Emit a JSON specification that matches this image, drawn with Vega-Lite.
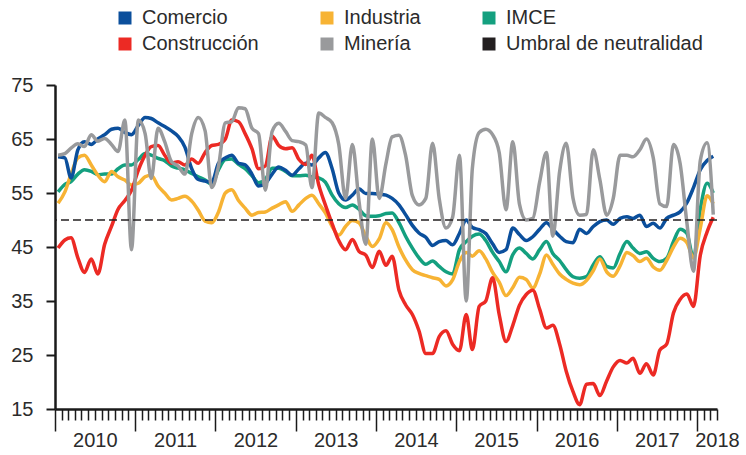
{
  "$schema": "https://vega.github.io/schema/vega-lite/v6.json",
  "width": 662,
  "height": 324,
  "autosize": {"type": "none"},
  "padding": {"left": 55, "top": 85, "right": 29, "bottom": 46},
  "background": "white",
  "config": {"view": {"stroke": null}, "font": "Liberation Sans"},
  "data": {"values": [
    {"d":"2010-01-15","Comercio":61.7,"Industria":53.1,"IMCE":55.2,"Construcción":44.8,"Minería":62},
    {"d":"2010-02-15","Comercio":61.5,"Industria":55.2,"IMCE":56.6,"Construcción":46.3,"Minería":62.3},
    {"d":"2010-03-15","Comercio":57.8,"Industria":58.5,"IMCE":57.1,"Construcción":46.7,"Minería":63.3},
    {"d":"2010-04-15","Comercio":63,"Industria":61.5,"IMCE":58.5,"Construcción":43,"Minería":64.1},
    {"d":"2010-05-15","Comercio":64.5,"Industria":62,"IMCE":59.3,"Construcción":40.3,"Minería":63.6},
    {"d":"2010-06-15","Comercio":64,"Industria":60.2,"IMCE":59,"Construcción":42.8,"Minería":65.8},
    {"d":"2010-07-15","Comercio":65,"Industria":58.3,"IMCE":58.4,"Construcción":40,"Minería":64.6},
    {"d":"2010-08-15","Comercio":65.8,"Industria":57.1,"IMCE":58.5,"Construcción":45.5,"Minería":65.1},
    {"d":"2010-09-15","Comercio":66.8,"Industria":59,"IMCE":58.5,"Construcción":48.8,"Minería":64},
    {"d":"2010-10-15","Comercio":67,"Industria":58,"IMCE":59.5,"Construcción":52,"Minería":62.7},
    {"d":"2010-11-15","Comercio":66.2,"Industria":57.4,"IMCE":60.2,"Construcción":53.6,"Minería":68.5},
    {"d":"2010-12-15","Comercio":65.8,"Industria":56.5,"IMCE":60.2,"Construcción":55.5,"Minería":44.5},
    {"d":"2011-01-15","Comercio":67.5,"Industria":56.8,"IMCE":61.2,"Construcción":59.2,"Minería":68.5},
    {"d":"2011-02-15","Comercio":69,"Industria":58,"IMCE":62.3,"Construcción":62,"Minería":66},
    {"d":"2011-03-15","Comercio":68.8,"Industria":58.3,"IMCE":62,"Construcción":63.6,"Minería":57.7},
    {"d":"2011-04-15","Comercio":68,"Industria":56.3,"IMCE":61.4,"Construcción":63.8,"Minería":67},
    {"d":"2011-05-15","Comercio":67.3,"Industria":55,"IMCE":61,"Construcción":62,"Minería":64.5},
    {"d":"2011-06-15","Comercio":66.5,"Industria":53.7,"IMCE":60,"Construcción":60.5,"Minería":60.8},
    {"d":"2011-07-15","Comercio":65.5,"Industria":54,"IMCE":59.6,"Construcción":60.8,"Minería":60},
    {"d":"2011-08-15","Comercio":63.5,"Industria":54.4,"IMCE":59.3,"Construcción":60.2,"Minería":58.5},
    {"d":"2011-09-15","Comercio":59.5,"Industria":53.5,"IMCE":58.6,"Construcción":61.3,"Minería":66},
    {"d":"2011-10-15","Comercio":57.5,"Industria":51.8,"IMCE":58,"Construcción":60.5,"Minería":69},
    {"d":"2011-11-15","Comercio":57.2,"Industria":49.8,"IMCE":57.4,"Construcción":62.5,"Minería":66.5},
    {"d":"2011-12-15","Comercio":57,"Industria":49.5,"IMCE":56.6,"Construcción":63.8,"Minería":56},
    {"d":"2012-01-15","Comercio":60.5,"Industria":51.5,"IMCE":59.3,"Construcción":64,"Minería":60},
    {"d":"2012-02-15","Comercio":61.5,"Industria":55,"IMCE":61.2,"Construcción":65,"Minería":68},
    {"d":"2012-03-15","Comercio":62,"Industria":55.6,"IMCE":61.3,"Construcción":68.5,"Minería":68.2},
    {"d":"2012-04-15","Comercio":60.5,"Industria":53.6,"IMCE":60.3,"Construcción":68.2,"Minería":70.8},
    {"d":"2012-05-15","Comercio":60.2,"Industria":52.2,"IMCE":59.5,"Construcción":66,"Minería":70.6},
    {"d":"2012-06-15","Comercio":58.5,"Industria":50.9,"IMCE":58.2,"Construcción":63.2,"Minería":67},
    {"d":"2012-07-15","Comercio":56.3,"Industria":51.4,"IMCE":56.9,"Construcción":59.5,"Minería":66},
    {"d":"2012-08-15","Comercio":56.8,"Industria":51.5,"IMCE":57.5,"Construcción":60,"Minería":55.5},
    {"d":"2012-09-15","Comercio":58.5,"Industria":52.2,"IMCE":59.6,"Construcción":65.5,"Minería":66.4},
    {"d":"2012-10-15","Comercio":59.8,"Industria":52.8,"IMCE":59.6,"Construcción":63.8,"Minería":67.9},
    {"d":"2012-11-15","Comercio":59.2,"Industria":53.4,"IMCE":59,"Construcción":63.2,"Minería":66.4},
    {"d":"2012-12-15","Comercio":58.3,"Industria":51.6,"IMCE":58.2,"Construcción":63.4,"Minería":64.7},
    {"d":"2013-01-15","Comercio":59.5,"Industria":52.8,"IMCE":58.2,"Construcción":61.2,"Minería":64.5},
    {"d":"2013-02-15","Comercio":60.5,"Industria":54,"IMCE":58.3,"Construcción":60.3,"Minería":63.9},
    {"d":"2013-03-15","Comercio":60.2,"Industria":54.6,"IMCE":58,"Construcción":62,"Minería":56},
    {"d":"2013-04-15","Comercio":61.5,"Industria":53,"IMCE":57.8,"Construcción":56.5,"Minería":69.8},
    {"d":"2013-05-15","Comercio":62.5,"Industria":51.3,"IMCE":57,"Construcción":52.8,"Minería":69},
    {"d":"2013-06-15","Comercio":59.5,"Industria":48.8,"IMCE":54.6,"Construcción":49.3,"Minería":68},
    {"d":"2013-07-15","Comercio":55,"Industria":47.2,"IMCE":53,"Construcción":46.2,"Minería":64},
    {"d":"2013-08-15","Comercio":53.7,"Industria":48.8,"IMCE":52.3,"Construcción":44.5,"Minería":54},
    {"d":"2013-09-15","Comercio":54.6,"Industria":49.9,"IMCE":52.8,"Construcción":46.4,"Minería":64},
    {"d":"2013-10-15","Comercio":55.8,"Industria":49.5,"IMCE":52,"Construcción":44.2,"Minería":53.5},
    {"d":"2013-11-15","Comercio":54.9,"Industria":47,"IMCE":50.8,"Construcción":43.5,"Minería":45.5},
    {"d":"2013-12-15","Comercio":54.9,"Industria":45.1,"IMCE":50.7,"Construcción":41.2,"Minería":65},
    {"d":"2014-01-15","Comercio":54.8,"Industria":46.5,"IMCE":50.8,"Construcción":44.2,"Minería":54},
    {"d":"2014-02-15","Comercio":54.6,"Industria":49.5,"IMCE":51.2,"Construcción":41.6,"Minería":60.5},
    {"d":"2014-03-15","Comercio":54,"Industria":48.2,"IMCE":51.3,"Construcción":43.3,"Minería":65.4},
    {"d":"2014-04-15","Comercio":52.8,"Industria":45,"IMCE":49.5,"Construcción":37,"Minería":65.7},
    {"d":"2014-05-15","Comercio":51,"Industria":42.6,"IMCE":47,"Construcción":34.3,"Minería":62},
    {"d":"2014-06-15","Comercio":49,"Industria":40.8,"IMCE":44.8,"Construcción":32.5,"Minería":54.5},
    {"d":"2014-07-15","Comercio":47.6,"Industria":40.1,"IMCE":43,"Construcción":29.5,"Minería":52.8},
    {"d":"2014-08-15","Comercio":46.8,"Industria":39.7,"IMCE":41.8,"Construcción":25.3,"Minería":54},
    {"d":"2014-09-15","Comercio":45.3,"Industria":39.3,"IMCE":42.4,"Construcción":25.3,"Minería":64.2},
    {"d":"2014-10-15","Comercio":46,"Industria":39,"IMCE":41.4,"Construcción":28.4,"Minería":54},
    {"d":"2014-11-15","Comercio":46.2,"Industria":37.8,"IMCE":40.4,"Construcción":29.5,"Minería":48.5},
    {"d":"2014-12-15","Comercio":45.4,"Industria":38.9,"IMCE":40,"Construcción":27,"Minería":50.5},
    {"d":"2015-01-15","Comercio":47.5,"Industria":42.3,"IMCE":44.5,"Construcción":25.8,"Minería":62},
    {"d":"2015-02-15","Comercio":50,"Industria":44,"IMCE":46,"Construcción":32.5,"Minería":35},
    {"d":"2015-03-15","Comercio":48.6,"Industria":43.3,"IMCE":47,"Construcción":26,"Minería":59.6},
    {"d":"2015-04-15","Comercio":48.2,"Industria":44.3,"IMCE":47.4,"Construcción":34,"Minería":66.2},
    {"d":"2015-05-15","Comercio":47.5,"Industria":42.8,"IMCE":46.2,"Construcción":35,"Minería":66.8},
    {"d":"2015-06-15","Comercio":45.6,"Industria":40.3,"IMCE":44,"Construcción":39.3,"Minería":65.8},
    {"d":"2015-07-15","Comercio":44,"Industria":38.5,"IMCE":42.3,"Construcción":32.5,"Minería":62.5},
    {"d":"2015-08-15","Comercio":44.5,"Industria":36,"IMCE":40.4,"Construcción":27.5,"Minería":51.9},
    {"d":"2015-09-15","Comercio":48.5,"Industria":37.5,"IMCE":43.6,"Construcción":30.5,"Minería":64.5},
    {"d":"2015-10-15","Comercio":47.3,"Industria":39.4,"IMCE":44.8,"Construcción":34.2,"Minería":53},
    {"d":"2015-11-15","Comercio":46.2,"Industria":39,"IMCE":43.8,"Construcción":36.2,"Minería":50},
    {"d":"2015-12-15","Comercio":46.9,"Industria":37.4,"IMCE":42.8,"Construcción":37,"Minería":50.3},
    {"d":"2016-01-15","Comercio":48.3,"Industria":40,"IMCE":44.5,"Construcción":33.5,"Minería":57},
    {"d":"2016-02-15","Comercio":49.5,"Industria":43.5,"IMCE":46,"Construcción":30,"Minería":62.5},
    {"d":"2016-03-15","Comercio":48.3,"Industria":41.8,"IMCE":43.8,"Construcción":30.5,"Minería":47},
    {"d":"2016-04-15","Comercio":47,"Industria":40,"IMCE":42.5,"Construcción":27,"Minería":59},
    {"d":"2016-05-15","Comercio":46,"Industria":39,"IMCE":40.8,"Construcción":22,"Minería":64.2},
    {"d":"2016-06-15","Comercio":45.8,"Industria":38.3,"IMCE":39.5,"Construcción":18.2,"Minería":54},
    {"d":"2016-07-15","Comercio":48.3,"Industria":38,"IMCE":39.2,"Construcción":15.8,"Minería":50.9},
    {"d":"2016-08-15","Comercio":47.5,"Industria":38.8,"IMCE":39.5,"Construcción":19.6,"Minería":51},
    {"d":"2016-09-15","Comercio":48.8,"Industria":40.6,"IMCE":41.7,"Construcción":19.7,"Minería":63},
    {"d":"2016-10-15","Comercio":49.7,"Industria":42.8,"IMCE":43.2,"Construcción":17.5,"Minería":57.5},
    {"d":"2016-11-15","Comercio":50,"Industria":40.4,"IMCE":41.4,"Construcción":20.2,"Minería":50.9},
    {"d":"2016-12-15","Comercio":49.2,"Industria":39.6,"IMCE":41.1,"Construcción":22.8,"Minería":54},
    {"d":"2017-01-15","Comercio":50.3,"Industria":41.5,"IMCE":43.8,"Construcción":24,"Minería":62},
    {"d":"2017-02-15","Comercio":50.6,"Industria":44,"IMCE":46,"Construcción":23.5,"Minería":62},
    {"d":"2017-03-15","Comercio":50.3,"Industria":43.4,"IMCE":44.8,"Construcción":24.4,"Minería":61.7},
    {"d":"2017-04-15","Comercio":50.9,"Industria":42.3,"IMCE":43.8,"Construcción":21.6,"Minería":63},
    {"d":"2017-05-15","Comercio":48.8,"Industria":42.9,"IMCE":44.1,"Construcción":23.4,"Minería":65},
    {"d":"2017-06-15","Comercio":49.4,"Industria":41.3,"IMCE":42.9,"Construcción":21.3,"Minería":61.5},
    {"d":"2017-07-15","Comercio":48.5,"Industria":40.7,"IMCE":42.3,"Construcción":25.9,"Minería":53},
    {"d":"2017-08-15","Comercio":50.3,"Industria":42.5,"IMCE":42.9,"Construcción":27,"Minería":52.5},
    {"d":"2017-09-15","Comercio":50.9,"Industria":45,"IMCE":46,"Construcción":32.8,"Minería":64},
    {"d":"2017-10-15","Comercio":51.5,"Industria":46.6,"IMCE":48.3,"Construcción":35.3,"Minería":60.5},
    {"d":"2017-11-15","Comercio":53.2,"Industria":45.8,"IMCE":47.5,"Construcción":36.3,"Minería":49.5},
    {"d":"2017-12-15","Comercio":56,"Industria":43,"IMCE":43,"Construcción":34,"Minería":40.5},
    {"d":"2018-01-15","Comercio":59.3,"Industria":48.5,"IMCE":52,"Construcción":43.5,"Minería":61},
    {"d":"2018-02-15","Comercio":61,"Industria":54.5,"IMCE":56.8,"Construcción":47.8,"Minería":64.3},
    {"d":"2018-03-15","Comercio":61.8,"Industria":53,"IMCE":55,"Construcción":50.5,"Minería":51}
  ]},
  "layer": [
    {
      "transform": [{"fold": ["IMCE", "Industria", "Comercio", "Construcción", "Minería"], "as": ["serie", "valor"]}],
      "mark": {"type": "line", "strokeWidth": 3.5, "interpolate": "monotone"},
      "encoding": {
        "x": {
          "field": "d", "type": "temporal",
          "scale": {"type": "utc", "domain": [{"year": 2010, "month": 1, "date": 1, "utc": true}, {"year": 2018, "month": 4, "date": 1, "utc": true}]},
          "axis": {
            "title": null, "grid": false,
            "tickCount": {"interval": "month", "step": 1},
            "tickSize": {"condition": {"test": "utcmonth(datum.value) === 0", "value": 22}, "value": 11},
            "tickWidth": 1.5, "tickColor": "#1a1a1a",
            "domainColor": "#1a1a1a", "domainWidth": 2.5,
            "labelExpr": "utcmonth(datum.value) === 6 ? utcFormat(datum.value, '%Y') : ((utcyear(datum.value) === 2018 && utcmonth(datum.value) === 3) ? '2018' : '')",
            "labelOverlap": false, "labelFlush": false, "labelBound": false,
            "labelFontSize": 20, "labelColor": "#2b2b2b", "labelPadding": 10, "labelFont": "Liberation Sans"
          }
        },
        "y": {
          "field": "valor", "type": "quantitative",
          "scale": {"domain": [15, 75], "nice": false, "zero": false},
          "axis": {
            "title": null, "grid": false,
            "values": [15, 25, 35, 45, 55, 65, 75],
            "tickSize": 9, "tickWidth": 2, "tickColor": "#1a1a1a",
            "domainColor": "#1a1a1a", "domainWidth": 2.5,
            "labelFontSize": 20, "labelColor": "#2b2b2b", "labelPadding": 13, "labelFont": "Liberation Sans"
          }
        },
        "color": {
          "field": "serie", "type": "nominal",
          "scale": {
            "domain": ["Comercio", "Industria", "IMCE", "Construcción", "Minería", "Umbral de neutralidad"],
            "range": ["#0b4f9c", "#f7b334", "#14a07f", "#ec2a24", "#999a9c", "#231f20"]
          },
          "legend": {
            "title": null, "orient": "none", "legendX": 60, "legendY": -77,
            "direction": "horizontal",
            "columns": 3, "columnPadding": 58, "rowPadding": 6, "padding": 0,
            "symbolType": "square", "symbolSize": 169, "symbolStrokeWidth": 0,
            "labelFontSize": 20, "labelFont": "Liberation Sans", "labelColor": "#2b2b2b", "labelOffset": 7, "labelLimit": 400,
            "encode": {"symbols": {"update": {"fill": {"scale": "color", "field": "value"}, "fillOpacity": {"value": 1}, "opacity": {"value": 1}}}}
          }
        }
      }
    },
    {
      "data": {"values": [{"umbral": 50}]},
      "mark": {"type": "rule", "strokeDash": [8, 4], "strokeWidth": 1.5},
      "encoding": {
        "y": {"field": "umbral", "type": "quantitative"},
        "color": {"datum": "Umbral de neutralidad"}
      }
    }
  ]
}
